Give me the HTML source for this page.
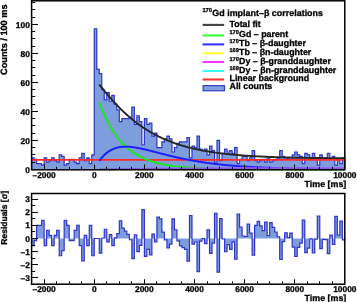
<!DOCTYPE html>
<html><head><meta charset="utf-8"><style>html,body{margin:0;padding:0;background:#fff;width:357px;height:302px;overflow:hidden;position:relative;-webkit-font-smoothing:antialiased} svg{will-change:transform}</style></head>
<body>
<svg width="357" height="302" viewBox="0 0 357 302" style="position:absolute;left:0;top:0"><rect width="357" height="302" fill="#fff"/><path d="M31.60,169.40L31.60,157.80L34.11,157.80L34.11,159.25L36.61,159.25L36.61,163.60L39.12,163.60L39.12,163.60L41.62,163.60L41.62,165.05L44.13,165.05L44.13,157.80L46.64,157.80L46.64,162.15L49.14,162.15L49.14,160.70L51.65,160.70L51.65,157.80L54.15,157.80L54.15,160.70L56.66,160.70L56.66,162.15L59.17,162.15L59.17,154.90L61.67,154.90L61.67,156.35L64.18,156.35L64.18,165.05L66.68,165.05L66.68,163.60L69.19,163.60L69.19,159.25L71.70,159.25L71.70,159.25L74.20,159.25L74.20,162.15L76.71,162.15L76.71,163.60L79.21,163.60L79.21,157.80L81.72,157.80L81.72,153.45L84.23,153.45L84.23,160.70L86.73,160.70L86.73,157.80L89.24,157.80L89.24,163.60L91.74,163.60L91.74,154.90L94.25,154.90L94.25,28.75L96.76,28.75L96.76,69.35L99.26,69.35L99.26,73.70L101.77,73.70L101.77,89.65L104.27,89.65L104.27,99.80L106.78,99.80L106.78,92.55L109.29,92.55L109.29,101.25L111.79,101.25L111.79,95.45L114.30,95.45L114.30,104.15L116.80,104.15L116.80,109.95L119.31,109.95L119.31,121.55L121.82,121.55L121.82,118.65L124.32,118.65L124.32,118.65L126.83,118.65L126.83,118.65L129.33,118.65L129.33,117.20L131.84,117.20L131.84,107.05L134.35,107.05L134.35,124.45L136.85,124.45L136.85,115.75L139.36,115.75L139.36,121.55L141.86,121.55L141.86,144.75L144.37,144.75L144.37,118.65L146.88,118.65L146.88,124.45L149.38,124.45L149.38,123.00L151.89,123.00L151.89,136.05L154.39,136.05L154.39,133.15L156.90,133.15L156.90,147.65L159.41,147.65L159.41,147.65L161.91,147.65L161.91,141.85L164.42,141.85L164.42,138.95L166.92,138.95L166.92,136.05L169.43,136.05L169.43,138.95L171.94,138.95L171.94,152.00L174.44,152.00L174.44,147.65L176.95,147.65L176.95,143.30L179.45,143.30L179.45,141.85L181.96,141.85L181.96,141.85L184.47,141.85L184.47,141.85L186.97,141.85L186.97,137.50L189.48,137.50L189.48,157.80L191.98,157.80L191.98,146.20L194.49,146.20L194.49,147.65L197.00,147.65L197.00,136.05L199.50,136.05L199.50,149.10L202.01,149.10L202.01,150.55L204.51,150.55L204.51,149.10L207.02,149.10L207.02,154.90L209.53,154.90L209.53,146.20L212.03,146.20L212.03,150.55L214.54,150.55L214.54,162.15L217.04,162.15L217.04,140.40L219.55,140.40L219.55,160.70L222.06,160.70L222.06,153.45L224.56,153.45L224.56,149.10L227.07,149.10L227.07,152.00L229.57,152.00L229.57,150.55L232.08,150.55L232.08,153.45L234.59,153.45L234.59,147.65L237.09,147.65L237.09,163.60L239.60,163.60L239.60,159.25L242.10,159.25L242.10,156.35L244.61,156.35L244.61,156.35L247.12,156.35L247.12,160.70L249.62,160.70L249.62,157.80L252.13,157.80L252.13,150.55L254.63,150.55L254.63,160.70L257.14,160.70L257.14,162.15L259.65,162.15L259.65,160.70L262.15,160.70L262.15,159.25L264.66,159.25L264.66,162.15L267.16,162.15L267.16,157.80L269.67,157.80L269.67,162.15L272.18,162.15L272.18,160.70L274.68,160.70L274.68,159.25L277.19,159.25L277.19,157.80L279.69,157.80L279.69,150.55L282.20,150.55L282.20,156.35L284.71,156.35L284.71,159.25L287.21,159.25L287.21,157.80L289.72,157.80L289.72,159.25L292.22,159.25L292.22,154.90L294.73,154.90L294.73,152.00L297.24,152.00L297.24,154.90L299.74,154.90L299.74,156.35L302.25,156.35L302.25,163.60L304.75,163.60L304.75,153.45L307.26,153.45L307.26,154.90L309.77,154.90L309.77,157.80L312.27,157.80L312.27,153.45L314.78,153.45L314.78,157.80L317.28,157.80L317.28,165.05L319.79,165.05L319.79,154.90L322.30,154.90L322.30,157.80L324.80,157.80L324.80,157.80L327.31,157.80L327.31,153.45L329.81,153.45L329.81,159.25L332.32,159.25L332.32,156.35L334.83,156.35L334.83,165.05L337.33,165.05L337.33,159.25L339.84,159.25L339.84,163.60L342.34,163.60L342.34,157.80L344.85,157.80L344.85,169.40Z" fill="#7d9ddd" stroke="none"/><path d="M31.60,169.40L31.60,157.80L34.11,157.80L34.11,159.25L36.61,159.25L36.61,163.60L39.12,163.60L39.12,163.60L41.62,163.60L41.62,165.05L44.13,165.05L44.13,157.80L46.64,157.80L46.64,162.15L49.14,162.15L49.14,160.70L51.65,160.70L51.65,157.80L54.15,157.80L54.15,160.70L56.66,160.70L56.66,162.15L59.17,162.15L59.17,154.90L61.67,154.90L61.67,156.35L64.18,156.35L64.18,165.05L66.68,165.05L66.68,163.60L69.19,163.60L69.19,159.25L71.70,159.25L71.70,159.25L74.20,159.25L74.20,162.15L76.71,162.15L76.71,163.60L79.21,163.60L79.21,157.80L81.72,157.80L81.72,153.45L84.23,153.45L84.23,160.70L86.73,160.70L86.73,157.80L89.24,157.80L89.24,163.60L91.74,163.60L91.74,154.90L94.25,154.90L94.25,28.75L96.76,28.75L96.76,69.35L99.26,69.35L99.26,73.70L101.77,73.70L101.77,89.65L104.27,89.65L104.27,99.80L106.78,99.80L106.78,92.55L109.29,92.55L109.29,101.25L111.79,101.25L111.79,95.45L114.30,95.45L114.30,104.15L116.80,104.15L116.80,109.95L119.31,109.95L119.31,121.55L121.82,121.55L121.82,118.65L124.32,118.65L124.32,118.65L126.83,118.65L126.83,118.65L129.33,118.65L129.33,117.20L131.84,117.20L131.84,107.05L134.35,107.05L134.35,124.45L136.85,124.45L136.85,115.75L139.36,115.75L139.36,121.55L141.86,121.55L141.86,144.75L144.37,144.75L144.37,118.65L146.88,118.65L146.88,124.45L149.38,124.45L149.38,123.00L151.89,123.00L151.89,136.05L154.39,136.05L154.39,133.15L156.90,133.15L156.90,147.65L159.41,147.65L159.41,147.65L161.91,147.65L161.91,141.85L164.42,141.85L164.42,138.95L166.92,138.95L166.92,136.05L169.43,136.05L169.43,138.95L171.94,138.95L171.94,152.00L174.44,152.00L174.44,147.65L176.95,147.65L176.95,143.30L179.45,143.30L179.45,141.85L181.96,141.85L181.96,141.85L184.47,141.85L184.47,141.85L186.97,141.85L186.97,137.50L189.48,137.50L189.48,157.80L191.98,157.80L191.98,146.20L194.49,146.20L194.49,147.65L197.00,147.65L197.00,136.05L199.50,136.05L199.50,149.10L202.01,149.10L202.01,150.55L204.51,150.55L204.51,149.10L207.02,149.10L207.02,154.90L209.53,154.90L209.53,146.20L212.03,146.20L212.03,150.55L214.54,150.55L214.54,162.15L217.04,162.15L217.04,140.40L219.55,140.40L219.55,160.70L222.06,160.70L222.06,153.45L224.56,153.45L224.56,149.10L227.07,149.10L227.07,152.00L229.57,152.00L229.57,150.55L232.08,150.55L232.08,153.45L234.59,153.45L234.59,147.65L237.09,147.65L237.09,163.60L239.60,163.60L239.60,159.25L242.10,159.25L242.10,156.35L244.61,156.35L244.61,156.35L247.12,156.35L247.12,160.70L249.62,160.70L249.62,157.80L252.13,157.80L252.13,150.55L254.63,150.55L254.63,160.70L257.14,160.70L257.14,162.15L259.65,162.15L259.65,160.70L262.15,160.70L262.15,159.25L264.66,159.25L264.66,162.15L267.16,162.15L267.16,157.80L269.67,157.80L269.67,162.15L272.18,162.15L272.18,160.70L274.68,160.70L274.68,159.25L277.19,159.25L277.19,157.80L279.69,157.80L279.69,150.55L282.20,150.55L282.20,156.35L284.71,156.35L284.71,159.25L287.21,159.25L287.21,157.80L289.72,157.80L289.72,159.25L292.22,159.25L292.22,154.90L294.73,154.90L294.73,152.00L297.24,152.00L297.24,154.90L299.74,154.90L299.74,156.35L302.25,156.35L302.25,163.60L304.75,163.60L304.75,153.45L307.26,153.45L307.26,154.90L309.77,154.90L309.77,157.80L312.27,157.80L312.27,153.45L314.78,153.45L314.78,157.80L317.28,157.80L317.28,165.05L319.79,165.05L319.79,154.90L322.30,154.90L322.30,157.80L324.80,157.80L324.80,157.80L327.31,157.80L327.31,153.45L329.81,153.45L329.81,159.25L332.32,159.25L332.32,156.35L334.83,156.35L334.83,165.05L337.33,165.05L337.33,159.25L339.84,159.25L339.84,163.60L342.34,163.60L342.34,157.80L344.85,157.80L344.85,169.40" fill="none" stroke="#3036c4" stroke-width="1.2"/><polyline points="99.26,84.50 99.89,85.29 100.52,86.09 101.14,86.87 101.77,87.66 102.39,88.44 103.02,89.22 103.65,89.99 104.27,90.76 104.90,91.52 105.53,92.28 106.15,93.03 106.78,93.78 107.41,94.52 108.03,95.26 108.66,95.99 109.29,96.72 109.91,97.44 110.54,98.15 111.17,98.86 111.79,99.57 112.42,100.27 113.04,100.96 113.67,101.65 114.30,102.33 114.92,103.01 115.55,103.68 116.18,104.35 116.80,105.00 117.43,105.66 118.06,106.31 118.68,106.95 119.31,107.58 119.94,108.21 120.56,108.84 121.19,109.46 121.82,110.07 122.44,110.67 123.07,111.27 123.70,111.87 124.32,112.46 124.95,113.04 125.57,113.62 126.20,114.19 126.83,114.75 127.45,115.31 128.08,115.87 128.71,116.41 129.33,116.96 129.96,117.49 130.59,118.02 131.21,118.55 131.84,119.07 132.47,119.58 133.09,120.09 133.72,120.59 134.35,121.09 134.97,121.58 135.60,122.07 136.23,122.55 136.85,123.02 137.48,123.49 138.10,123.95 138.73,124.41 139.36,124.87 139.98,125.32 140.61,125.76 141.24,126.20 141.86,126.63 142.49,127.06 143.12,127.48 143.74,127.90 144.37,128.31 145.00,128.72 145.62,129.12 146.25,129.52 146.88,129.91 147.50,130.30 148.13,130.69 148.76,131.07 149.38,131.44 150.01,131.81 150.63,132.18 151.26,132.54 151.89,132.89 152.51,133.25 153.14,133.59 153.77,133.94 154.39,134.28 155.02,134.61 155.65,134.94 156.27,135.27 156.90,135.59 157.53,135.91 158.15,136.22 158.78,136.53 159.41,136.84 160.03,137.14 160.66,137.44 161.29,137.73 161.91,138.03 162.54,138.31 163.16,138.60 163.79,138.88 164.42,139.15 165.04,139.42 165.67,139.69 166.30,139.96 166.92,140.22 167.55,140.48 168.18,140.73 168.80,140.98 169.43,141.23 170.06,141.48 170.68,141.72 171.31,141.96 171.94,142.19 172.56,142.42 173.19,142.65 173.82,142.88 174.44,143.10 175.07,143.32 175.69,143.54 176.32,143.75 176.95,143.96 177.57,144.17 178.20,144.38 178.83,144.58 179.45,144.78 180.08,144.98 180.71,145.17 181.33,145.36 181.96,145.55 182.59,145.74 183.21,145.92 183.84,146.11 184.47,146.28 185.09,146.46 185.72,146.64 186.35,146.81 186.97,146.98 187.60,147.14 188.22,147.31 188.85,147.47 189.48,147.63 190.10,147.79 190.73,147.94 191.36,148.10 191.98,148.25 192.61,148.40 193.24,148.55 193.86,148.69 194.49,148.83 195.12,148.98 195.74,149.11 196.37,149.25 197.00,149.39 197.62,149.52 198.25,149.65 198.88,149.78 199.50,149.91 200.13,150.04 200.75,150.16 201.38,150.28 202.01,150.40 202.63,150.52 203.26,150.64 203.89,150.76 204.51,150.87 205.14,150.98 205.77,151.09 206.39,151.20 207.02,151.31 207.65,151.42 208.27,151.52 208.90,151.62 209.53,151.72 210.15,151.83 210.78,151.92 211.41,152.02 212.03,152.12 212.66,152.21 213.28,152.30 213.91,152.40 214.54,152.49 215.16,152.58 215.79,152.66 216.42,152.75 217.04,152.84 217.67,152.92 218.30,153.00 218.92,153.09 219.55,153.17 220.18,153.25 220.80,153.32 221.43,153.40 222.06,153.48 222.68,153.55 223.31,153.63 223.94,153.70 224.56,153.77 225.19,153.84 225.81,153.91 226.44,153.98 227.07,154.05 227.69,154.11 228.32,154.18 228.95,154.24 229.57,154.31 230.20,154.37 230.83,154.43 231.45,154.49 232.08,154.55 232.71,154.61 233.33,154.67 233.96,154.73 234.59,154.79 235.21,154.84 235.84,154.90 236.47,154.95 237.09,155.00 237.72,155.06 238.34,155.11 238.97,155.16 239.60,155.21 240.22,155.26 240.85,155.31 241.48,155.36 242.10,155.40 242.73,155.45 243.36,155.50 243.98,155.54 244.61,155.59 245.24,155.63 245.86,155.67 246.49,155.72 247.12,155.76 247.74,155.80 248.37,155.84 249.00,155.88 249.62,155.92 250.25,155.96 250.88,156.00 251.50,156.04 252.13,156.07 252.75,156.11 253.38,156.15 254.01,156.18 254.63,156.22 255.26,156.25 255.89,156.29 256.51,156.32 257.14,156.35 257.77,156.39 258.39,156.42 259.02,156.45 259.65,156.48 260.27,156.51 260.90,156.54 261.53,156.57 262.15,156.60 262.78,156.63 263.41,156.66 264.03,156.69 264.66,156.72 265.28,156.74 265.91,156.77 266.54,156.80 267.16,156.82 267.79,156.85 268.42,156.87 269.04,156.90 269.67,156.92 270.30,156.95 270.92,156.97 271.55,156.99 272.18,157.02 272.80,157.04 273.43,157.06 274.06,157.08 274.68,157.11 275.31,157.13 275.94,157.15 276.56,157.17 277.19,157.19 277.81,157.21 278.44,157.23 279.07,157.25 279.69,157.27 280.32,157.29 280.95,157.31 281.57,157.33 282.20,157.34 282.83,157.36 283.45,157.38 284.08,157.40 284.71,157.41 285.33,157.43 285.96,157.45 286.59,157.46 287.21,157.48 287.84,157.49 288.47,157.51 289.09,157.53 289.72,157.54 290.34,157.56 290.97,157.57 291.60,157.59 292.22,157.60 292.85,157.61 293.48,157.63 294.10,157.64 294.73,157.65 295.36,157.67 295.98,157.68 296.61,157.69 297.24,157.71 297.86,157.72 298.49,157.73 299.12,157.74 299.74,157.75 300.37,157.77 301.00,157.78 301.62,157.79 302.25,157.80 302.87,157.81 303.50,157.82 304.13,157.83 304.75,157.84 305.38,157.85 306.01,157.86 306.63,157.87 307.26,157.88 307.89,157.89 308.51,157.90 309.14,157.91 309.77,157.92 310.39,157.93 311.02,157.94 311.65,157.95 312.27,157.96 312.90,157.97 313.53,157.97 314.15,157.98 314.78,157.99 315.40,158.00 316.03,158.01 316.66,158.02 317.28,158.02 317.91,158.03 318.54,158.04 319.16,158.05 319.79,158.05 320.42,158.06 321.04,158.07 321.67,158.07 322.30,158.08 322.92,158.09 323.55,158.09 324.18,158.10 324.80,158.11 325.43,158.11 326.06,158.12 326.68,158.13 327.31,158.13 327.93,158.14 328.56,158.14 329.19,158.15 329.81,158.16 330.44,158.16 331.07,158.17 331.69,158.17 332.32,158.18 332.95,158.18 333.57,158.19 334.20,158.19 334.83,158.20 335.45,158.20 336.08,158.21 336.71,158.21 337.33,158.22 337.96,158.22 338.59,158.23 339.21,158.23 339.84,158.24 340.46,158.24 341.09,158.24 341.72,158.25 342.34,158.25 342.97,158.26 343.60,158.26 344.22,158.27 344.85,158.27" fill="none" stroke="#262626" stroke-width="1.9" stroke-linejoin="round"/><polyline points="31.60,159.83 32.23,159.83 32.85,159.83 33.48,159.83 34.11,159.83 34.73,159.83 35.36,159.83 35.99,159.83 36.61,159.83 37.24,159.83 37.87,159.83 38.49,159.83 39.12,159.83 39.74,159.83 40.37,159.83 41.00,159.83 41.62,159.83 42.25,159.83 42.88,159.83 43.50,159.83 44.13,159.83 44.76,159.83 45.38,159.83 46.01,159.83 46.64,159.83 47.26,159.83 47.89,159.83 48.52,159.83 49.14,159.83 49.77,159.83 50.40,159.83 51.02,159.83 51.65,159.83 52.27,159.83 52.90,159.83 53.53,159.83 54.15,159.83 54.78,159.83 55.41,159.83 56.03,159.83 56.66,159.83 57.29,159.83 57.91,159.83 58.54,159.83 59.17,159.83 59.79,159.83 60.42,159.83 61.05,159.83 61.67,159.83 62.30,159.83 62.92,159.83 63.55,159.83 64.18,159.83 64.80,159.83 65.43,159.83 66.06,159.83 66.68,159.83 67.31,159.83 67.94,159.83 68.56,159.83 69.19,159.83 69.82,159.83 70.44,159.83 71.07,159.83 71.70,159.83 72.32,159.83 72.95,159.83 73.58,159.83 74.20,159.83 74.83,159.83 75.45,159.83 76.08,159.83 76.71,159.83 77.33,159.83 77.96,159.83 78.59,159.83 79.21,159.83 79.84,159.83 80.47,159.83 81.09,159.83 81.72,159.83 82.35,159.83 82.97,159.83 83.60,159.83 84.23,159.83 84.85,159.83 85.48,159.83 86.11,159.83 86.73,159.83 87.36,159.83 87.98,159.83 88.61,159.83 89.24,159.83 89.86,159.83 90.49,159.83 91.12,159.83 91.74,159.83 92.37,159.83 93.00,159.83 93.62,159.83 94.25,159.83 94.88,159.83 95.50,159.83 96.13,159.83 96.76,159.83 97.38,159.83 98.01,159.83 98.64,159.83 99.26,159.83 99.89,159.83 100.52,159.83 101.14,159.83 101.77,159.83 102.39,159.83 103.02,159.83 103.65,159.83 104.27,159.83 104.90,159.83 105.53,159.83 106.15,159.83 106.78,159.83 107.41,159.83 108.03,159.83 108.66,159.83 109.29,159.83 109.91,159.83 110.54,159.83 111.17,159.83 111.79,159.83 112.42,159.83 113.04,159.83 113.67,159.83 114.30,159.83 114.92,159.83 115.55,159.83 116.18,159.83 116.80,159.83 117.43,159.83 118.06,159.83 118.68,159.83 119.31,159.83 119.94,159.83 120.56,159.83 121.19,159.83 121.82,159.83 122.44,159.83 123.07,159.83 123.70,159.83 124.32,159.83 124.95,159.83 125.57,159.83 126.20,159.83 126.83,159.83 127.45,159.83 128.08,159.83 128.71,159.83 129.33,159.83 129.96,159.83 130.59,159.83 131.21,159.83 131.84,159.83 132.47,159.83 133.09,159.83 133.72,159.83 134.35,159.83 134.97,159.83 135.60,159.83 136.23,159.83 136.85,159.83 137.48,159.83 138.10,159.83 138.73,159.83 139.36,159.83 139.98,159.83 140.61,159.83 141.24,159.83 141.86,159.83 142.49,159.83 143.12,159.83 143.74,159.83 144.37,159.83 145.00,159.83 145.62,159.83 146.25,159.83 146.88,159.83 147.50,159.83 148.13,159.83 148.76,159.83 149.38,159.83 150.01,159.83 150.63,159.83 151.26,159.83 151.89,159.83 152.51,159.83 153.14,159.83 153.77,159.83 154.39,159.83 155.02,159.83 155.65,159.83 156.27,159.83 156.90,159.83 157.53,159.83 158.15,159.83 158.78,159.83 159.41,159.83 160.03,159.83 160.66,159.83 161.29,159.83 161.91,159.83 162.54,159.83 163.16,159.83 163.79,159.83 164.42,159.83 165.04,159.83 165.67,159.83 166.30,159.83 166.92,159.83 167.55,159.83 168.18,159.83 168.80,159.83 169.43,159.83 170.06,159.83 170.68,159.83 171.31,159.83 171.94,159.83 172.56,159.83 173.19,159.83 173.82,159.83 174.44,159.83 175.07,159.83 175.69,159.83 176.32,159.83 176.95,159.83 177.57,159.83 178.20,159.83 178.83,159.83 179.45,159.83 180.08,159.83 180.71,159.83 181.33,159.83 181.96,159.83 182.59,159.83 183.21,159.83 183.84,159.83 184.47,159.83 185.09,159.83 185.72,159.83 186.35,159.83 186.97,159.83 187.60,159.83 188.22,159.83 188.85,159.83 189.48,159.83 190.10,159.83 190.73,159.83 191.36,159.83 191.98,159.83 192.61,159.83 193.24,159.83 193.86,159.83 194.49,159.83 195.12,159.83 195.74,159.83 196.37,159.83 197.00,159.83 197.62,159.83 198.25,159.83 198.88,159.83 199.50,159.83 200.13,159.83 200.75,159.83 201.38,159.83 202.01,159.83 202.63,159.83 203.26,159.83 203.89,159.83 204.51,159.83 205.14,159.83 205.77,159.83 206.39,159.83 207.02,159.83 207.65,159.83 208.27,159.83 208.90,159.83 209.53,159.83 210.15,159.83 210.78,159.83 211.41,159.83 212.03,159.83 212.66,159.83 213.28,159.83 213.91,159.83 214.54,159.83 215.16,159.83 215.79,159.83 216.42,159.83 217.04,159.83 217.67,159.83 218.30,159.83 218.92,159.83 219.55,159.83 220.18,159.83 220.80,159.83 221.43,159.83 222.06,159.83 222.68,159.83 223.31,159.83 223.94,159.83 224.56,159.83 225.19,159.83 225.81,159.83 226.44,159.83 227.07,159.83 227.69,159.83 228.32,159.83 228.95,159.83 229.57,159.83 230.20,159.83 230.83,159.83 231.45,159.83 232.08,159.83 232.71,159.83 233.33,159.83 233.96,159.83 234.59,159.83 235.21,159.83 235.84,159.83 236.47,159.83 237.09,159.83 237.72,159.83 238.34,159.83 238.97,159.83 239.60,159.83 240.22,159.83 240.85,159.83 241.48,159.83 242.10,159.83 242.73,159.83 243.36,159.83 243.98,159.83 244.61,159.83 245.24,159.83 245.86,159.83 246.49,159.83 247.12,159.83 247.74,159.83 248.37,159.83 249.00,159.83 249.62,159.83 250.25,159.83 250.88,159.83 251.50,159.83 252.13,159.83 252.75,159.83 253.38,159.83 254.01,159.83 254.63,159.83 255.26,159.83 255.89,159.83 256.51,159.83 257.14,159.83 257.77,159.83 258.39,159.83 259.02,159.83 259.65,159.83 260.27,159.83 260.90,159.83 261.53,159.83 262.15,159.83 262.78,159.83 263.41,159.83 264.03,159.83 264.66,159.83 265.28,159.83 265.91,159.83 266.54,159.83 267.16,159.83 267.79,159.83 268.42,159.83 269.04,159.83 269.67,159.83 270.30,159.83 270.92,159.83 271.55,159.83 272.18,159.83 272.80,159.83 273.43,159.83 274.06,159.83 274.68,159.83 275.31,159.83 275.94,159.83 276.56,159.83 277.19,159.83 277.81,159.83 278.44,159.83 279.07,159.83 279.69,159.83 280.32,159.83 280.95,159.83 281.57,159.83 282.20,159.83 282.83,159.83 283.45,159.83 284.08,159.83 284.71,159.83 285.33,159.83 285.96,159.83 286.59,159.83 287.21,159.83 287.84,159.83 288.47,159.83 289.09,159.83 289.72,159.83 290.34,159.83 290.97,159.83 291.60,159.83 292.22,159.83 292.85,159.83 293.48,159.83 294.10,159.83 294.73,159.83 295.36,159.83 295.98,159.83 296.61,159.83 297.24,159.83 297.86,159.83 298.49,159.83 299.12,159.83 299.74,159.83 300.37,159.83 301.00,159.83 301.62,159.83 302.25,159.83 302.87,159.83 303.50,159.83 304.13,159.83 304.75,159.83 305.38,159.83 306.01,159.83 306.63,159.83 307.26,159.83 307.89,159.83 308.51,159.83 309.14,159.83 309.77,159.83 310.39,159.83 311.02,159.83 311.65,159.83 312.27,159.83 312.90,159.83 313.53,159.83 314.15,159.83 314.78,159.83 315.40,159.83 316.03,159.83 316.66,159.83 317.28,159.83 317.91,159.83 318.54,159.83 319.16,159.83 319.79,159.83 320.42,159.83 321.04,159.83 321.67,159.83 322.30,159.83 322.92,159.83 323.55,159.83 324.18,159.83 324.80,159.83 325.43,159.83 326.06,159.83 326.68,159.83 327.31,159.83 327.93,159.83 328.56,159.83 329.19,159.83 329.81,159.83 330.44,159.83 331.07,159.83 331.69,159.83 332.32,159.83 332.95,159.83 333.57,159.83 334.20,159.83 334.83,159.83 335.45,159.83 336.08,159.83 336.71,159.83 337.33,159.83 337.96,159.83 338.59,159.83 339.21,159.83 339.84,159.83 340.46,159.83 341.09,159.83 341.72,159.83 342.34,159.83 342.97,159.83 343.60,159.83 344.22,159.83 344.85,159.83" fill="none" stroke="#ff2a2a" stroke-width="1.9" stroke-linejoin="round"/><polyline points="99.26,102.54 99.89,104.21 100.52,105.83 101.14,107.42 101.77,108.96 102.39,110.47 103.02,111.94 103.65,113.37 104.27,114.77 104.90,116.13 105.53,117.46 106.15,118.75 106.78,120.01 107.41,121.25 108.03,122.45 108.66,123.62 109.29,124.76 109.91,125.87 110.54,126.96 111.17,128.01 111.79,129.05 112.42,130.05 113.04,131.03 113.67,131.99 114.30,132.92 114.92,133.83 115.55,134.72 116.18,135.58 116.80,136.43 117.43,137.25 118.06,138.05 118.68,138.83 119.31,139.59 119.94,140.34 120.56,141.06 121.19,141.77 121.82,142.46 122.44,143.13 123.07,143.78 123.70,144.42 124.32,145.04 124.95,145.65 125.57,146.24 126.20,146.82 126.83,147.38 127.45,147.93 128.08,148.47 128.71,148.99 129.33,149.50 129.96,149.99 130.59,150.48 131.21,150.95 131.84,151.41 132.47,151.86 133.09,152.29 133.72,152.72 134.35,153.14 134.97,153.54 135.60,153.94 136.23,154.32 136.85,154.70 137.48,155.07 138.10,155.42 138.73,155.77 139.36,156.11 139.98,156.44 140.61,156.77 141.24,157.08 141.86,157.39 142.49,157.69 143.12,157.98 143.74,158.26 144.37,158.54 145.00,158.81 145.62,159.08 146.25,159.33 146.88,159.58 147.50,159.83 148.13,160.07 148.76,160.30 149.38,160.53 150.01,160.75 150.63,160.96 151.26,161.17 151.89,161.38 152.51,161.58 153.14,161.77 153.77,161.96 154.39,162.15 155.02,162.33 155.65,162.51 156.27,162.68 156.90,162.85 157.53,163.01 158.15,163.17 158.78,163.32 159.41,163.48 160.03,163.62 160.66,163.77 161.29,163.91 161.91,164.04 162.54,164.18 163.16,164.31 163.79,164.44 164.42,164.56 165.04,164.68 165.67,164.80 166.30,164.91 166.92,165.02 167.55,165.13 168.18,165.24 168.80,165.34 169.43,165.44 170.06,165.54 170.68,165.64 171.31,165.73 171.94,165.82 172.56,165.91 173.19,166.00 173.82,166.08 174.44,166.17 175.07,166.25 175.69,166.33 176.32,166.40 176.95,166.48 177.57,166.55 178.20,166.62 178.83,166.69 179.45,166.76 180.08,166.82 180.71,166.89 181.33,166.95 181.96,167.01 182.59,167.07 183.21,167.13 183.84,167.19 184.47,167.24 185.09,167.30 185.72,167.35 186.35,167.40 186.97,167.45 187.60,167.50 188.22,167.55 188.85,167.59 189.48,167.64 190.10,167.68 190.73,167.72 191.36,167.77 191.98,167.81 192.61,167.85 193.24,167.88 193.86,167.92 194.49,167.96 195.12,167.99 195.74,168.03 196.37,168.06 197.00,168.10 197.62,168.13 198.25,168.16 198.88,168.19 199.50,168.22 200.13,168.25 200.75,168.28 201.38,168.31 202.01,168.34 202.63,168.36 203.26,168.39 203.89,168.41 204.51,168.44 205.14,168.46 205.77,168.49 206.39,168.51 207.02,168.53 207.65,168.55 208.27,168.57 208.90,168.59 209.53,168.61 210.15,168.63 210.78,168.65 211.41,168.67 212.03,168.69 212.66,168.71 213.28,168.72 213.91,168.74 214.54,168.76 215.16,168.77 215.79,168.79 216.42,168.80 217.04,168.82 217.67,168.83 218.30,168.85 218.92,168.86 219.55,168.88 220.18,168.89 220.80,168.90 221.43,168.91 222.06,168.93 222.68,168.94 223.31,168.95 223.94,168.96 224.56,168.97 225.19,168.98 225.81,168.99 226.44,169.00 227.07,169.01 227.69,169.02 228.32,169.03 228.95,169.04 229.57,169.05 230.20,169.06 230.83,169.07 231.45,169.08 232.08,169.08 232.71,169.09 233.33,169.10 233.96,169.11 234.59,169.11 235.21,169.12 235.84,169.13 236.47,169.13 237.09,169.14 237.72,169.15 238.34,169.15 238.97,169.16 239.60,169.17 240.22,169.17 240.85,169.18 241.48,169.18 242.10,169.19 242.73,169.19 243.36,169.20 243.98,169.20 244.61,169.21 245.24,169.21 245.86,169.22 246.49,169.22 247.12,169.23 247.74,169.23 248.37,169.24 249.00,169.24 249.62,169.24 250.25,169.25 250.88,169.25 251.50,169.26 252.13,169.26 252.75,169.26 253.38,169.27 254.01,169.27 254.63,169.27 255.26,169.28 255.89,169.28 256.51,169.28 257.14,169.28 257.77,169.29 258.39,169.29 259.02,169.29 259.65,169.30 260.27,169.30 260.90,169.30 261.53,169.30 262.15,169.31 262.78,169.31 263.41,169.31 264.03,169.31 264.66,169.31 265.28,169.32 265.91,169.32 266.54,169.32 267.16,169.32 267.79,169.32 268.42,169.33 269.04,169.33 269.67,169.33 270.30,169.33 270.92,169.33 271.55,169.34 272.18,169.34 272.80,169.34 273.43,169.34 274.06,169.34 274.68,169.34 275.31,169.34 275.94,169.35 276.56,169.35 277.19,169.35 277.81,169.35 278.44,169.35 279.07,169.35 279.69,169.35 280.32,169.35 280.95,169.36 281.57,169.36 282.20,169.36 282.83,169.36 283.45,169.36 284.08,169.36 284.71,169.36 285.33,169.36 285.96,169.36 286.59,169.36 287.21,169.37 287.84,169.37 288.47,169.37 289.09,169.37 289.72,169.37 290.34,169.37 290.97,169.37 291.60,169.37 292.22,169.37 292.85,169.37 293.48,169.37 294.10,169.37 294.73,169.37 295.36,169.38 295.98,169.38 296.61,169.38 297.24,169.38 297.86,169.38 298.49,169.38 299.12,169.38 299.74,169.38 300.37,169.38 301.00,169.38 301.62,169.38 302.25,169.38 302.87,169.38 303.50,169.38 304.13,169.38 304.75,169.38 305.38,169.38 306.01,169.38 306.63,169.38 307.26,169.38 307.89,169.39 308.51,169.39 309.14,169.39 309.77,169.39 310.39,169.39 311.02,169.39 311.65,169.39 312.27,169.39 312.90,169.39 313.53,169.39 314.15,169.39 314.78,169.39 315.40,169.39 316.03,169.39 316.66,169.39 317.28,169.39 317.91,169.39 318.54,169.39 319.16,169.39 319.79,169.39 320.42,169.39 321.04,169.39 321.67,169.39 322.30,169.39 322.92,169.39 323.55,169.39 324.18,169.39 324.80,169.39 325.43,169.39 326.06,169.39 326.68,169.39 327.31,169.39 327.93,169.39 328.56,169.39 329.19,169.39 329.81,169.39 330.44,169.39 331.07,169.39 331.69,169.39 332.32,169.39 332.95,169.39 333.57,169.39 334.20,169.39 334.83,169.39 335.45,169.40 336.08,169.40 336.71,169.40 337.33,169.40 337.96,169.40 338.59,169.40 339.21,169.40 339.84,169.40 340.46,169.40 341.09,169.40 341.72,169.40 342.34,169.40 342.97,169.40 343.60,169.40 344.22,169.40 344.85,169.40" fill="none" stroke="#1ee61e" stroke-width="2.0" stroke-linejoin="round"/><polyline points="99.26,160.94 99.89,160.07 100.52,159.25 101.14,158.45 101.77,157.70 102.39,156.98 103.02,156.29 103.65,155.64 104.27,155.01 104.90,154.42 105.53,153.85 106.15,153.32 106.78,152.81 107.41,152.33 108.03,151.87 108.66,151.44 109.29,151.03 109.91,150.65 110.54,150.29 111.17,149.95 111.79,149.63 112.42,149.33 113.04,149.05 113.67,148.79 114.30,148.55 114.92,148.33 115.55,148.12 116.18,147.93 116.80,147.76 117.43,147.60 118.06,147.45 118.68,147.32 119.31,147.20 119.94,147.10 120.56,147.01 121.19,146.93 121.82,146.86 122.44,146.80 123.07,146.76 123.70,146.72 124.32,146.70 124.95,146.68 125.57,146.68 126.20,146.68 126.83,146.69 127.45,146.71 128.08,146.74 128.71,146.78 129.33,146.82 129.96,146.87 130.59,146.92 131.21,146.99 131.84,147.05 132.47,147.13 133.09,147.21 133.72,147.29 134.35,147.38 134.97,147.48 135.60,147.58 136.23,147.68 136.85,147.79 137.48,147.90 138.10,148.02 138.73,148.14 139.36,148.26 139.98,148.39 140.61,148.51 141.24,148.65 141.86,148.78 142.49,148.92 143.12,149.06 143.74,149.20 144.37,149.34 145.00,149.49 145.62,149.63 146.25,149.78 146.88,149.93 147.50,150.09 148.13,150.24 148.76,150.39 149.38,150.55 150.01,150.71 150.63,150.86 151.26,151.02 151.89,151.18 152.51,151.34 153.14,151.50 153.77,151.66 154.39,151.82 155.02,151.98 155.65,152.14 156.27,152.31 156.90,152.47 157.53,152.63 158.15,152.79 158.78,152.95 159.41,153.11 160.03,153.27 160.66,153.44 161.29,153.60 161.91,153.76 162.54,153.92 163.16,154.08 163.79,154.23 164.42,154.39 165.04,154.55 165.67,154.71 166.30,154.86 166.92,155.02 167.55,155.17 168.18,155.33 168.80,155.48 169.43,155.64 170.06,155.79 170.68,155.94 171.31,156.09 171.94,156.24 172.56,156.39 173.19,156.53 173.82,156.68 174.44,156.83 175.07,156.97 175.69,157.11 176.32,157.26 176.95,157.40 177.57,157.54 178.20,157.68 178.83,157.81 179.45,157.95 180.08,158.09 180.71,158.22 181.33,158.36 181.96,158.49 182.59,158.62 183.21,158.75 183.84,158.88 184.47,159.01 185.09,159.14 185.72,159.26 186.35,159.39 186.97,159.51 187.60,159.63 188.22,159.75 188.85,159.87 189.48,159.99 190.10,160.11 190.73,160.23 191.36,160.34 191.98,160.46 192.61,160.57 193.24,160.68 193.86,160.79 194.49,160.90 195.12,161.01 195.74,161.12 196.37,161.23 197.00,161.33 197.62,161.43 198.25,161.54 198.88,161.64 199.50,161.74 200.13,161.84 200.75,161.94 201.38,162.04 202.01,162.13 202.63,162.23 203.26,162.32 203.89,162.42 204.51,162.51 205.14,162.60 205.77,162.69 206.39,162.78 207.02,162.87 207.65,162.95 208.27,163.04 208.90,163.13 209.53,163.21 210.15,163.29 210.78,163.37 211.41,163.46 212.03,163.54 212.66,163.62 213.28,163.69 213.91,163.77 214.54,163.85 215.16,163.92 215.79,164.00 216.42,164.07 217.04,164.14 217.67,164.22 218.30,164.29 218.92,164.36 219.55,164.43 220.18,164.49 220.80,164.56 221.43,164.63 222.06,164.69 222.68,164.76 223.31,164.82 223.94,164.89 224.56,164.95 225.19,165.01 225.81,165.07 226.44,165.13 227.07,165.19 227.69,165.25 228.32,165.31 228.95,165.37 229.57,165.42 230.20,165.48 230.83,165.53 231.45,165.59 232.08,165.64 232.71,165.69 233.33,165.75 233.96,165.80 234.59,165.85 235.21,165.90 235.84,165.95 236.47,166.00 237.09,166.04 237.72,166.09 238.34,166.14 238.97,166.19 239.60,166.23 240.22,166.28 240.85,166.32 241.48,166.36 242.10,166.41 242.73,166.45 243.36,166.49 243.98,166.53 244.61,166.57 245.24,166.62 245.86,166.66 246.49,166.69 247.12,166.73 247.74,166.77 248.37,166.81 249.00,166.85 249.62,166.88 250.25,166.92 250.88,166.96 251.50,166.99 252.13,167.03 252.75,167.06 253.38,167.09 254.01,167.13 254.63,167.16 255.26,167.19 255.89,167.22 256.51,167.26 257.14,167.29 257.77,167.32 258.39,167.35 259.02,167.38 259.65,167.41 260.27,167.44 260.90,167.46 261.53,167.49 262.15,167.52 262.78,167.55 263.41,167.57 264.03,167.60 264.66,167.63 265.28,167.65 265.91,167.68 266.54,167.70 267.16,167.73 267.79,167.75 268.42,167.78 269.04,167.80 269.67,167.82 270.30,167.85 270.92,167.87 271.55,167.89 272.18,167.91 272.80,167.94 273.43,167.96 274.06,167.98 274.68,168.00 275.31,168.02 275.94,168.04 276.56,168.06 277.19,168.08 277.81,168.10 278.44,168.12 279.07,168.14 279.69,168.16 280.32,168.18 280.95,168.19 281.57,168.21 282.20,168.23 282.83,168.25 283.45,168.26 284.08,168.28 284.71,168.30 285.33,168.31 285.96,168.33 286.59,168.34 287.21,168.36 287.84,168.38 288.47,168.39 289.09,168.41 289.72,168.42 290.34,168.44 290.97,168.45 291.60,168.46 292.22,168.48 292.85,168.49 293.48,168.50 294.10,168.52 294.73,168.53 295.36,168.54 295.98,168.56 296.61,168.57 297.24,168.58 297.86,168.59 298.49,168.61 299.12,168.62 299.74,168.63 300.37,168.64 301.00,168.65 301.62,168.66 302.25,168.67 302.87,168.69 303.50,168.70 304.13,168.71 304.75,168.72 305.38,168.73 306.01,168.74 306.63,168.75 307.26,168.76 307.89,168.77 308.51,168.78 309.14,168.79 309.77,168.79 310.39,168.80 311.02,168.81 311.65,168.82 312.27,168.83 312.90,168.84 313.53,168.85 314.15,168.86 314.78,168.86 315.40,168.87 316.03,168.88 316.66,168.89 317.28,168.89 317.91,168.90 318.54,168.91 319.16,168.92 319.79,168.92 320.42,168.93 321.04,168.94 321.67,168.95 322.30,168.95 322.92,168.96 323.55,168.97 324.18,168.97 324.80,168.98 325.43,168.99 326.06,168.99 326.68,169.00 327.31,169.00 327.93,169.01 328.56,169.02 329.19,169.02 329.81,169.03 330.44,169.03 331.07,169.04 331.69,169.04 332.32,169.05 332.95,169.05 333.57,169.06 334.20,169.06 334.83,169.07 335.45,169.07 336.08,169.08 336.71,169.08 337.33,169.09 337.96,169.09 338.59,169.10 339.21,169.10 339.84,169.11 340.46,169.11 341.09,169.12 341.72,169.12 342.34,169.12 342.97,169.13 343.60,169.13 344.22,169.14 344.85,169.14" fill="none" stroke="#1e1eff" stroke-width="2.0" stroke-linejoin="round"/><polyline points="99.26,169.39 99.89,169.38 100.52,169.38 101.14,169.37 101.77,169.37 102.39,169.36 103.02,169.36 103.65,169.35 104.27,169.35 104.90,169.34 105.53,169.34 106.15,169.33 106.78,169.32 107.41,169.32 108.03,169.31 108.66,169.30 109.29,169.29 109.91,169.29 110.54,169.28 111.17,169.27 111.79,169.26 112.42,169.25 113.04,169.25 113.67,169.24 114.30,169.23 114.92,169.22 115.55,169.21 116.18,169.20 116.80,169.19 117.43,169.19 118.06,169.18 118.68,169.17 119.31,169.16 119.94,169.15 120.56,169.14 121.19,169.13 121.82,169.12 122.44,169.11 123.07,169.10 123.70,169.09 124.32,169.08 124.95,169.08 125.57,169.07 126.20,169.06 126.83,169.05 127.45,169.04 128.08,169.03 128.71,169.02 129.33,169.01 129.96,169.00 130.59,168.99 131.21,168.98 131.84,168.97 132.47,168.96 133.09,168.96 133.72,168.95 134.35,168.94 134.97,168.93 135.60,168.92 136.23,168.91 136.85,168.90 137.48,168.89 138.10,168.88 138.73,168.88 139.36,168.87 139.98,168.86 140.61,168.85 141.24,168.84 141.86,168.83 142.49,168.82 143.12,168.82 143.74,168.81 144.37,168.80 145.00,168.79 145.62,168.78 146.25,168.78 146.88,168.77 147.50,168.76 148.13,168.75 148.76,168.74 149.38,168.74 150.01,168.73 150.63,168.72 151.26,168.71 151.89,168.71 152.51,168.70 153.14,168.69 153.77,168.68 154.39,168.68 155.02,168.67 155.65,168.66 156.27,168.65 156.90,168.65 157.53,168.64 158.15,168.63 158.78,168.63 159.41,168.62 160.03,168.61 160.66,168.61 161.29,168.60 161.91,168.59 162.54,168.59 163.16,168.58 163.79,168.58 164.42,168.57 165.04,168.56 165.67,168.56 166.30,168.55 166.92,168.55 167.55,168.54 168.18,168.53 168.80,168.53 169.43,168.52 170.06,168.52 170.68,168.51 171.31,168.51 171.94,168.50 172.56,168.50 173.19,168.49 173.82,168.48 174.44,168.48 175.07,168.47 175.69,168.47 176.32,168.46 176.95,168.46 177.57,168.45 178.20,168.45 178.83,168.45 179.45,168.44 180.08,168.44 180.71,168.43 181.33,168.43 181.96,168.42 182.59,168.42 183.21,168.41 183.84,168.41 184.47,168.40 185.09,168.40 185.72,168.40 186.35,168.39 186.97,168.39 187.60,168.38 188.22,168.38 188.85,168.38 189.48,168.37 190.10,168.37 190.73,168.36 191.36,168.36 191.98,168.36 192.61,168.35 193.24,168.35 193.86,168.35 194.49,168.34 195.12,168.34 195.74,168.34 196.37,168.33 197.00,168.33 197.62,168.33 198.25,168.32 198.88,168.32 199.50,168.32 200.13,168.31 200.75,168.31 201.38,168.31 202.01,168.30 202.63,168.30 203.26,168.30 203.89,168.30 204.51,168.29 205.14,168.29 205.77,168.29 206.39,168.28 207.02,168.28 207.65,168.28 208.27,168.28 208.90,168.27 209.53,168.27 210.15,168.27 210.78,168.27 211.41,168.26 212.03,168.26 212.66,168.26 213.28,168.26 213.91,168.25 214.54,168.25 215.16,168.25 215.79,168.25 216.42,168.25 217.04,168.24 217.67,168.24 218.30,168.24 218.92,168.24 219.55,168.24 220.18,168.23 220.80,168.23 221.43,168.23 222.06,168.23 222.68,168.23 223.31,168.22 223.94,168.22 224.56,168.22 225.19,168.22 225.81,168.22 226.44,168.21 227.07,168.21 227.69,168.21 228.32,168.21 228.95,168.21 229.57,168.21 230.20,168.20 230.83,168.20 231.45,168.20 232.08,168.20 232.71,168.20 233.33,168.20 233.96,168.20 234.59,168.19 235.21,168.19 235.84,168.19 236.47,168.19 237.09,168.19 237.72,168.19 238.34,168.19 238.97,168.18 239.60,168.18 240.22,168.18 240.85,168.18 241.48,168.18 242.10,168.18 242.73,168.18 243.36,168.18 243.98,168.17 244.61,168.17 245.24,168.17 245.86,168.17 246.49,168.17 247.12,168.17 247.74,168.17 248.37,168.17 249.00,168.17 249.62,168.16 250.25,168.16 250.88,168.16 251.50,168.16 252.13,168.16 252.75,168.16 253.38,168.16 254.01,168.16 254.63,168.16 255.26,168.16 255.89,168.15 256.51,168.15 257.14,168.15 257.77,168.15 258.39,168.15 259.02,168.15 259.65,168.15 260.27,168.15 260.90,168.15 261.53,168.15 262.15,168.15 262.78,168.15 263.41,168.14 264.03,168.14 264.66,168.14 265.28,168.14 265.91,168.14 266.54,168.14 267.16,168.14 267.79,168.14 268.42,168.14 269.04,168.14 269.67,168.14 270.30,168.14 270.92,168.14 271.55,168.14 272.18,168.14 272.80,168.13 273.43,168.13 274.06,168.13 274.68,168.13 275.31,168.13 275.94,168.13 276.56,168.13 277.19,168.13 277.81,168.13 278.44,168.13 279.07,168.13 279.69,168.13 280.32,168.13 280.95,168.13 281.57,168.13 282.20,168.13 282.83,168.13 283.45,168.13 284.08,168.13 284.71,168.12 285.33,168.12 285.96,168.12 286.59,168.12 287.21,168.12 287.84,168.12 288.47,168.12 289.09,168.12 289.72,168.12 290.34,168.12 290.97,168.12 291.60,168.12 292.22,168.12 292.85,168.12 293.48,168.12 294.10,168.12 294.73,168.12 295.36,168.12 295.98,168.12 296.61,168.12 297.24,168.12 297.86,168.12 298.49,168.12 299.12,168.12 299.74,168.12 300.37,168.12 301.00,168.12 301.62,168.11 302.25,168.11 302.87,168.11 303.50,168.11 304.13,168.11 304.75,168.11 305.38,168.11 306.01,168.11 306.63,168.11 307.26,168.11 307.89,168.11 308.51,168.11 309.14,168.11 309.77,168.11 310.39,168.11 311.02,168.11 311.65,168.11 312.27,168.11 312.90,168.11 313.53,168.11 314.15,168.11 314.78,168.11 315.40,168.11 316.03,168.11 316.66,168.11 317.28,168.11 317.91,168.11 318.54,168.11 319.16,168.11 319.79,168.11 320.42,168.11 321.04,168.11 321.67,168.11 322.30,168.11 322.92,168.11 323.55,168.11 324.18,168.11 324.80,168.11 325.43,168.11 326.06,168.11 326.68,168.11 327.31,168.11 327.93,168.11 328.56,168.11 329.19,168.11 329.81,168.10 330.44,168.10 331.07,168.10 331.69,168.10 332.32,168.10 332.95,168.10 333.57,168.10 334.20,168.10 334.83,168.10 335.45,168.10 336.08,168.10 336.71,168.10 337.33,168.10 337.96,168.10 338.59,168.10 339.21,168.10 339.84,168.10 340.46,168.10 341.09,168.10 341.72,168.10 342.34,168.10 342.97,168.10 343.60,168.10 344.22,168.10 344.85,168.10" fill="none" stroke="#aa50ff" stroke-width="1.8" stroke-linejoin="round"/><polyline points="99.26,169.40 99.89,169.40 100.52,169.40 101.14,169.40 101.77,169.40 102.39,169.40 103.02,169.40 103.65,169.40 104.27,169.40 104.90,169.40 105.53,169.40 106.15,169.40 106.78,169.40 107.41,169.40 108.03,169.40 108.66,169.40 109.29,169.40 109.91,169.40 110.54,169.40 111.17,169.40 111.79,169.40 112.42,169.40 113.04,169.40 113.67,169.40 114.30,169.40 114.92,169.40 115.55,169.40 116.18,169.40 116.80,169.40 117.43,169.40 118.06,169.40 118.68,169.40 119.31,169.40 119.94,169.40 120.56,169.40 121.19,169.40 121.82,169.40 122.44,169.40 123.07,169.40 123.70,169.40 124.32,169.40 124.95,169.40 125.57,169.40 126.20,169.40 126.83,169.40 127.45,169.40 128.08,169.40 128.71,169.40 129.33,169.40 129.96,169.40 130.59,169.40 131.21,169.40 131.84,169.40 132.47,169.40 133.09,169.40 133.72,169.40 134.35,169.40 134.97,169.40 135.60,169.40 136.23,169.40 136.85,169.40 137.48,169.40 138.10,169.40 138.73,169.40 139.36,169.40 139.98,169.40 140.61,169.40 141.24,169.40 141.86,169.40 142.49,169.40 143.12,169.40 143.74,169.40 144.37,169.40 145.00,169.40 145.62,169.40 146.25,169.40 146.88,169.40 147.50,169.40 148.13,169.40 148.76,169.40 149.38,169.40 150.01,169.40 150.63,169.40 151.26,169.40 151.89,169.40 152.51,169.40 153.14,169.40 153.77,169.40 154.39,169.40 155.02,169.40 155.65,169.40 156.27,169.40 156.90,169.40 157.53,169.40 158.15,169.40 158.78,169.40 159.41,169.40 160.03,169.40 160.66,169.40 161.29,169.40 161.91,169.40 162.54,169.40 163.16,169.40 163.79,169.40 164.42,169.40 165.04,169.40 165.67,169.40 166.30,169.40 166.92,169.40 167.55,169.40 168.18,169.40 168.80,169.40 169.43,169.40 170.06,169.40 170.68,169.40 171.31,169.40 171.94,169.40 172.56,169.40 173.19,169.40 173.82,169.40 174.44,169.40 175.07,169.40 175.69,169.40 176.32,169.40 176.95,169.40 177.57,169.40 178.20,169.40 178.83,169.40 179.45,169.40 180.08,169.40 180.71,169.40 181.33,169.40 181.96,169.40 182.59,169.40 183.21,169.40 183.84,169.40 184.47,169.40 185.09,169.40 185.72,169.40 186.35,169.40 186.97,169.40 187.60,169.40 188.22,169.40 188.85,169.40 189.48,169.40 190.10,169.40 190.73,169.40 191.36,169.40 191.98,169.40 192.61,169.40 193.24,169.40 193.86,169.40 194.49,169.40 195.12,169.40 195.74,169.40 196.37,169.40 197.00,169.40 197.62,169.40 198.25,169.40 198.88,169.40 199.50,169.40 200.13,169.40 200.75,169.40 201.38,169.40 202.01,169.40 202.63,169.40 203.26,169.40 203.89,169.40 204.51,169.40 205.14,169.40 205.77,169.40 206.39,169.40 207.02,169.40 207.65,169.40 208.27,169.40 208.90,169.40 209.53,169.40 210.15,169.40 210.78,169.40 211.41,169.40 212.03,169.40 212.66,169.40 213.28,169.40 213.91,169.40 214.54,169.40 215.16,169.40 215.79,169.40 216.42,169.40 217.04,169.40 217.67,169.40 218.30,169.40 218.92,169.40 219.55,169.40 220.18,169.40 220.80,169.40 221.43,169.40 222.06,169.40 222.68,169.40 223.31,169.40 223.94,169.40 224.56,169.40 225.19,169.40 225.81,169.40 226.44,169.40 227.07,169.40 227.69,169.40 228.32,169.40 228.95,169.40 229.57,169.40 230.20,169.40 230.83,169.40 231.45,169.40 232.08,169.40 232.71,169.40 233.33,169.40 233.96,169.40 234.59,169.40 235.21,169.40 235.84,169.40 236.47,169.40 237.09,169.40 237.72,169.40 238.34,169.40 238.97,169.40 239.60,169.40 240.22,169.40 240.85,169.40 241.48,169.40 242.10,169.40 242.73,169.40 243.36,169.40 243.98,169.40 244.61,169.40 245.24,169.40 245.86,169.40 246.49,169.40 247.12,169.40 247.74,169.40 248.37,169.40 249.00,169.40 249.62,169.40 250.25,169.40 250.88,169.40 251.50,169.40 252.13,169.40 252.75,169.40 253.38,169.40 254.01,169.40 254.63,169.40 255.26,169.40 255.89,169.40 256.51,169.40 257.14,169.40 257.77,169.40 258.39,169.40 259.02,169.40 259.65,169.40 260.27,169.40 260.90,169.40 261.53,169.40 262.15,169.40 262.78,169.40 263.41,169.40 264.03,169.40 264.66,169.40 265.28,169.40 265.91,169.40 266.54,169.40 267.16,169.40 267.79,169.40 268.42,169.40 269.04,169.40 269.67,169.40 270.30,169.40 270.92,169.40 271.55,169.40 272.18,169.40 272.80,169.40 273.43,169.40 274.06,169.40 274.68,169.40 275.31,169.40 275.94,169.40 276.56,169.40 277.19,169.40 277.81,169.40 278.44,169.40 279.07,169.40 279.69,169.40 280.32,169.40 280.95,169.40 281.57,169.40 282.20,169.40 282.83,169.40 283.45,169.40 284.08,169.40 284.71,169.40 285.33,169.40 285.96,169.40 286.59,169.40 287.21,169.40 287.84,169.40 288.47,169.40 289.09,169.40 289.72,169.40 290.34,169.40 290.97,169.40 291.60,169.40 292.22,169.40 292.85,169.40 293.48,169.40 294.10,169.40 294.73,169.40 295.36,169.40 295.98,169.40 296.61,169.40 297.24,169.40 297.86,169.40 298.49,169.40 299.12,169.40 299.74,169.40 300.37,169.40 301.00,169.40 301.62,169.40 302.25,169.40 302.87,169.40 303.50,169.40 304.13,169.40 304.75,169.40 305.38,169.40 306.01,169.40 306.63,169.40 307.26,169.40 307.89,169.40 308.51,169.40 309.14,169.40 309.77,169.40 310.39,169.40 311.02,169.40 311.65,169.40 312.27,169.40 312.90,169.40 313.53,169.40 314.15,169.40 314.78,169.40 315.40,169.40 316.03,169.40 316.66,169.40 317.28,169.40 317.91,169.40 318.54,169.40 319.16,169.40 319.79,169.40 320.42,169.40 321.04,169.40 321.67,169.40 322.30,169.40 322.92,169.40 323.55,169.40 324.18,169.40 324.80,169.40 325.43,169.40 326.06,169.40 326.68,169.40 327.31,169.40 327.93,169.40 328.56,169.40 329.19,169.40 329.81,169.40 330.44,169.40 331.07,169.40 331.69,169.40 332.32,169.40 332.95,169.40 333.57,169.40 334.20,169.40 334.83,169.40 335.45,169.40 336.08,169.40 336.71,169.40 337.33,169.40 337.96,169.40 338.59,169.40 339.21,169.40 339.84,169.40 340.46,169.40 341.09,169.40 341.72,169.40 342.34,169.40 342.97,169.40 343.60,169.40 344.22,169.40 344.85,169.40" fill="none" stroke="#2a8080" stroke-width="1.4" stroke-linejoin="round"/><rect x="31.6" y="0.8" width="313.2" height="169.0" fill="none" stroke="#000" stroke-width="1.5"/><path d="M31.60,238.50L31.60,245.60L34.11,245.60L34.11,240.53L36.61,240.53L36.61,225.31L39.12,225.31L39.12,225.31L41.62,225.31L41.62,220.24L44.13,220.24L44.13,245.60L46.64,245.60L46.64,230.38L49.14,230.38L49.14,235.46L51.65,235.46L51.65,245.60L54.15,245.60L54.15,235.46L56.66,235.46L56.66,230.38L59.17,230.38L59.17,255.74L61.67,255.74L61.67,250.67L64.18,250.67L64.18,220.24L66.68,220.24L66.68,225.31L69.19,225.31L69.19,240.53L71.70,240.53L71.70,240.53L74.20,240.53L74.20,230.38L76.71,230.38L76.71,225.31L79.21,225.31L79.21,245.60L81.72,245.60L81.72,260.82L84.23,260.82L84.23,235.46L86.73,235.46L86.73,245.60L89.24,245.60L89.24,225.31L91.74,225.31L91.74,255.74L94.25,255.74L94.25,238.50L96.76,238.50L96.76,238.50L99.26,238.50L99.26,253.18L101.77,253.18L101.77,237.98L104.27,237.98L104.27,229.23L106.78,229.23L106.78,241.90L109.29,241.90L109.29,234.53L111.79,234.53L111.79,245.71L114.30,245.71L114.30,237.87L116.80,237.87L116.80,233.54L119.31,233.54L119.31,220.82L121.82,220.82L121.82,228.03L124.32,228.03L124.32,231.21L126.83,231.21L126.83,234.38L129.33,234.38L129.33,239.74L131.84,239.74L131.84,258.59L134.35,258.59L134.35,234.75L136.85,234.75L136.85,251.67L139.36,251.67L139.36,245.39L141.86,245.39L141.86,209.64L144.37,209.64L144.37,256.36L146.88,256.36L146.88,249.35L149.38,249.35L149.38,254.78L151.89,254.78L151.89,234.06L154.39,234.06L154.39,241.80L156.90,241.80L156.90,217.03L159.41,217.03L159.41,218.96L161.91,218.96L161.91,232.16L164.42,232.16L164.42,239.97L166.92,239.97L166.92,247.96L169.43,247.96L169.43,244.19L171.94,244.19L171.94,218.94L174.44,218.94L174.44,229.75L176.95,229.75L176.95,240.83L179.45,240.83L179.45,245.80L181.96,245.80L181.96,247.60L184.47,247.60L184.47,249.35L186.97,249.35L186.97,261.08L189.48,261.08L189.48,215.48L191.98,215.48L191.98,244.06L194.49,244.06L194.49,242.02L197.00,242.02L197.00,271.62L199.50,271.62L199.50,241.11L202.01,241.11L202.01,238.72L204.51,238.72L204.51,243.54L207.02,243.54L207.02,229.85L209.53,229.85L209.53,253.32L212.03,253.32L212.03,243.09L214.54,243.09L214.54,213.41L217.04,213.41L217.04,272.18L219.55,272.18L219.55,218.59L222.06,218.59L222.06,238.98L224.56,238.98L224.56,251.73L227.07,251.73L227.07,244.54L229.57,244.54L229.57,249.36L232.08,249.36L232.08,241.94L234.59,241.94L234.59,259.09L237.09,259.09L237.09,214.19L239.60,214.19L239.60,227.14L242.10,227.14L242.10,236.02L244.61,236.02L244.61,236.52L247.12,236.52L247.12,224.22L249.62,224.22L249.62,233.18L252.13,233.18L252.13,255.14L254.63,255.14L254.63,225.31L257.14,225.31L257.14,221.29L259.65,221.29L259.65,225.95L262.15,225.95L262.15,230.65L264.66,230.65L264.66,222.12L267.16,222.12L267.16,235.67L269.67,235.67L269.67,222.60L272.18,222.60L272.18,227.29L274.68,227.29L274.68,232.00L277.19,232.00L277.19,236.73L279.69,236.73L279.69,259.52L282.20,259.52L282.20,241.71L284.71,241.71L284.71,232.86L287.21,232.86L287.21,237.59L289.72,237.59L289.72,233.22L292.22,233.22L292.22,247.10L294.73,247.10L294.73,256.46L297.24,256.46L297.24,247.47L299.74,247.47L299.74,243.03L302.25,243.03L302.25,220.13L304.75,220.13L304.75,252.56L307.26,252.56L307.26,248.08L309.77,248.08L309.77,238.95L312.27,238.95L312.27,252.99L314.78,252.99L314.78,239.17L317.28,239.17L317.28,215.99L319.79,215.99L319.79,248.68L322.30,248.68L322.30,239.45L324.80,239.45L324.80,239.53L327.31,239.53L327.31,253.64L329.81,253.64L329.81,235.00L332.32,235.00L332.32,244.44L334.83,244.44L334.83,216.37L337.33,216.37L337.33,235.19L339.84,235.19L339.84,221.15L342.34,221.15L342.34,240.00L344.85,240.00L344.85,238.50Z" fill="#7d9ddd" stroke="none"/><path d="M31.60,238.50L31.60,245.60L34.11,245.60L34.11,240.53L36.61,240.53L36.61,225.31L39.12,225.31L39.12,225.31L41.62,225.31L41.62,220.24L44.13,220.24L44.13,245.60L46.64,245.60L46.64,230.38L49.14,230.38L49.14,235.46L51.65,235.46L51.65,245.60L54.15,245.60L54.15,235.46L56.66,235.46L56.66,230.38L59.17,230.38L59.17,255.74L61.67,255.74L61.67,250.67L64.18,250.67L64.18,220.24L66.68,220.24L66.68,225.31L69.19,225.31L69.19,240.53L71.70,240.53L71.70,240.53L74.20,240.53L74.20,230.38L76.71,230.38L76.71,225.31L79.21,225.31L79.21,245.60L81.72,245.60L81.72,260.82L84.23,260.82L84.23,235.46L86.73,235.46L86.73,245.60L89.24,245.60L89.24,225.31L91.74,225.31L91.74,255.74L94.25,255.74L94.25,238.50L96.76,238.50L96.76,238.50L99.26,238.50L99.26,253.18L101.77,253.18L101.77,237.98L104.27,237.98L104.27,229.23L106.78,229.23L106.78,241.90L109.29,241.90L109.29,234.53L111.79,234.53L111.79,245.71L114.30,245.71L114.30,237.87L116.80,237.87L116.80,233.54L119.31,233.54L119.31,220.82L121.82,220.82L121.82,228.03L124.32,228.03L124.32,231.21L126.83,231.21L126.83,234.38L129.33,234.38L129.33,239.74L131.84,239.74L131.84,258.59L134.35,258.59L134.35,234.75L136.85,234.75L136.85,251.67L139.36,251.67L139.36,245.39L141.86,245.39L141.86,209.64L144.37,209.64L144.37,256.36L146.88,256.36L146.88,249.35L149.38,249.35L149.38,254.78L151.89,254.78L151.89,234.06L154.39,234.06L154.39,241.80L156.90,241.80L156.90,217.03L159.41,217.03L159.41,218.96L161.91,218.96L161.91,232.16L164.42,232.16L164.42,239.97L166.92,239.97L166.92,247.96L169.43,247.96L169.43,244.19L171.94,244.19L171.94,218.94L174.44,218.94L174.44,229.75L176.95,229.75L176.95,240.83L179.45,240.83L179.45,245.80L181.96,245.80L181.96,247.60L184.47,247.60L184.47,249.35L186.97,249.35L186.97,261.08L189.48,261.08L189.48,215.48L191.98,215.48L191.98,244.06L194.49,244.06L194.49,242.02L197.00,242.02L197.00,271.62L199.50,271.62L199.50,241.11L202.01,241.11L202.01,238.72L204.51,238.72L204.51,243.54L207.02,243.54L207.02,229.85L209.53,229.85L209.53,253.32L212.03,253.32L212.03,243.09L214.54,243.09L214.54,213.41L217.04,213.41L217.04,272.18L219.55,272.18L219.55,218.59L222.06,218.59L222.06,238.98L224.56,238.98L224.56,251.73L227.07,251.73L227.07,244.54L229.57,244.54L229.57,249.36L232.08,249.36L232.08,241.94L234.59,241.94L234.59,259.09L237.09,259.09L237.09,214.19L239.60,214.19L239.60,227.14L242.10,227.14L242.10,236.02L244.61,236.02L244.61,236.52L247.12,236.52L247.12,224.22L249.62,224.22L249.62,233.18L252.13,233.18L252.13,255.14L254.63,255.14L254.63,225.31L257.14,225.31L257.14,221.29L259.65,221.29L259.65,225.95L262.15,225.95L262.15,230.65L264.66,230.65L264.66,222.12L267.16,222.12L267.16,235.67L269.67,235.67L269.67,222.60L272.18,222.60L272.18,227.29L274.68,227.29L274.68,232.00L277.19,232.00L277.19,236.73L279.69,236.73L279.69,259.52L282.20,259.52L282.20,241.71L284.71,241.71L284.71,232.86L287.21,232.86L287.21,237.59L289.72,237.59L289.72,233.22L292.22,233.22L292.22,247.10L294.73,247.10L294.73,256.46L297.24,256.46L297.24,247.47L299.74,247.47L299.74,243.03L302.25,243.03L302.25,220.13L304.75,220.13L304.75,252.56L307.26,252.56L307.26,248.08L309.77,248.08L309.77,238.95L312.27,238.95L312.27,252.99L314.78,252.99L314.78,239.17L317.28,239.17L317.28,215.99L319.79,215.99L319.79,248.68L322.30,248.68L322.30,239.45L324.80,239.45L324.80,239.53L327.31,239.53L327.31,253.64L329.81,253.64L329.81,235.00L332.32,235.00L332.32,244.44L334.83,244.44L334.83,216.37L337.33,216.37L337.33,235.19L339.84,235.19L339.84,221.15L342.34,221.15L342.34,240.00L344.85,240.00L344.85,238.50" fill="none" stroke="#3036c4" stroke-width="1.2"/><rect x="31.6" y="193.5" width="313.2" height="90.69999999999999" fill="none" stroke="#000" stroke-width="1.5"/><line x1="32.2" y1="162.50" x2="35.2" y2="162.50" stroke="#000" stroke-width="1"/><line x1="32.2" y1="154.50" x2="35.2" y2="154.50" stroke="#000" stroke-width="1"/><line x1="32.2" y1="147.50" x2="35.2" y2="147.50" stroke="#000" stroke-width="1"/><line x1="32.2" y1="140.50" x2="38.0" y2="140.50" stroke="#000" stroke-width="1"/><line x1="32.2" y1="133.50" x2="35.2" y2="133.50" stroke="#000" stroke-width="1"/><line x1="32.2" y1="125.50" x2="35.2" y2="125.50" stroke="#000" stroke-width="1"/><line x1="32.2" y1="118.50" x2="35.2" y2="118.50" stroke="#000" stroke-width="1"/><line x1="32.2" y1="111.50" x2="38.0" y2="111.50" stroke="#000" stroke-width="1"/><line x1="32.2" y1="104.50" x2="35.2" y2="104.50" stroke="#000" stroke-width="1"/><line x1="32.2" y1="96.50" x2="35.2" y2="96.50" stroke="#000" stroke-width="1"/><line x1="32.2" y1="89.50" x2="35.2" y2="89.50" stroke="#000" stroke-width="1"/><line x1="32.2" y1="82.50" x2="38.0" y2="82.50" stroke="#000" stroke-width="1"/><line x1="32.2" y1="75.50" x2="35.2" y2="75.50" stroke="#000" stroke-width="1"/><line x1="32.2" y1="67.50" x2="35.2" y2="67.50" stroke="#000" stroke-width="1"/><line x1="32.2" y1="60.50" x2="35.2" y2="60.50" stroke="#000" stroke-width="1"/><line x1="32.2" y1="53.50" x2="38.0" y2="53.50" stroke="#000" stroke-width="1"/><line x1="32.2" y1="46.50" x2="35.2" y2="46.50" stroke="#000" stroke-width="1"/><line x1="32.2" y1="38.50" x2="35.2" y2="38.50" stroke="#000" stroke-width="1"/><line x1="32.2" y1="31.50" x2="35.2" y2="31.50" stroke="#000" stroke-width="1"/><line x1="32.2" y1="24.50" x2="38.0" y2="24.50" stroke="#000" stroke-width="1"/><line x1="32.2" y1="17.50" x2="35.2" y2="17.50" stroke="#000" stroke-width="1"/><line x1="32.2" y1="9.50" x2="35.2" y2="9.50" stroke="#000" stroke-width="1"/><line x1="32.2" y1="2.50" x2="35.2" y2="2.50" stroke="#000" stroke-width="1"/><line x1="44.50" y1="169.2" x2="44.50" y2="164.6" stroke="#000" stroke-width="1"/><line x1="56.50" y1="169.2" x2="56.50" y2="166.79999999999998" stroke="#000" stroke-width="1"/><line x1="69.50" y1="169.2" x2="69.50" y2="166.79999999999998" stroke="#000" stroke-width="1"/><line x1="81.50" y1="169.2" x2="81.50" y2="166.79999999999998" stroke="#000" stroke-width="1"/><line x1="94.50" y1="169.2" x2="94.50" y2="164.6" stroke="#000" stroke-width="1"/><line x1="106.50" y1="169.2" x2="106.50" y2="166.79999999999998" stroke="#000" stroke-width="1"/><line x1="119.50" y1="169.2" x2="119.50" y2="166.79999999999998" stroke="#000" stroke-width="1"/><line x1="131.50" y1="169.2" x2="131.50" y2="166.79999999999998" stroke="#000" stroke-width="1"/><line x1="144.50" y1="169.2" x2="144.50" y2="164.6" stroke="#000" stroke-width="1"/><line x1="156.50" y1="169.2" x2="156.50" y2="166.79999999999998" stroke="#000" stroke-width="1"/><line x1="169.50" y1="169.2" x2="169.50" y2="166.79999999999998" stroke="#000" stroke-width="1"/><line x1="181.50" y1="169.2" x2="181.50" y2="166.79999999999998" stroke="#000" stroke-width="1"/><line x1="194.50" y1="169.2" x2="194.50" y2="164.6" stroke="#000" stroke-width="1"/><line x1="207.50" y1="169.2" x2="207.50" y2="166.79999999999998" stroke="#000" stroke-width="1"/><line x1="219.50" y1="169.2" x2="219.50" y2="166.79999999999998" stroke="#000" stroke-width="1"/><line x1="232.50" y1="169.2" x2="232.50" y2="166.79999999999998" stroke="#000" stroke-width="1"/><line x1="244.50" y1="169.2" x2="244.50" y2="164.6" stroke="#000" stroke-width="1"/><line x1="257.50" y1="169.2" x2="257.50" y2="166.79999999999998" stroke="#000" stroke-width="1"/><line x1="269.50" y1="169.2" x2="269.50" y2="166.79999999999998" stroke="#000" stroke-width="1"/><line x1="282.50" y1="169.2" x2="282.50" y2="166.79999999999998" stroke="#000" stroke-width="1"/><line x1="294.50" y1="169.2" x2="294.50" y2="164.6" stroke="#000" stroke-width="1"/><line x1="307.50" y1="169.2" x2="307.50" y2="166.79999999999998" stroke="#000" stroke-width="1"/><line x1="319.50" y1="169.2" x2="319.50" y2="166.79999999999998" stroke="#000" stroke-width="1"/><line x1="332.50" y1="169.2" x2="332.50" y2="166.79999999999998" stroke="#000" stroke-width="1"/><line x1="32.2" y1="277.50" x2="38.0" y2="277.50" stroke="#000" stroke-width="1"/><line x1="32.2" y1="271.50" x2="35.2" y2="271.50" stroke="#000" stroke-width="1"/><line x1="32.2" y1="264.50" x2="38.0" y2="264.50" stroke="#000" stroke-width="1"/><line x1="32.2" y1="258.50" x2="35.2" y2="258.50" stroke="#000" stroke-width="1"/><line x1="32.2" y1="251.50" x2="38.0" y2="251.50" stroke="#000" stroke-width="1"/><line x1="32.2" y1="245.50" x2="35.2" y2="245.50" stroke="#000" stroke-width="1"/><line x1="32.2" y1="238.50" x2="38.0" y2="238.50" stroke="#000" stroke-width="1"/><line x1="32.2" y1="231.50" x2="35.2" y2="231.50" stroke="#000" stroke-width="1"/><line x1="32.2" y1="225.50" x2="38.0" y2="225.50" stroke="#000" stroke-width="1"/><line x1="32.2" y1="218.50" x2="35.2" y2="218.50" stroke="#000" stroke-width="1"/><line x1="32.2" y1="212.50" x2="38.0" y2="212.50" stroke="#000" stroke-width="1"/><line x1="32.2" y1="205.50" x2="35.2" y2="205.50" stroke="#000" stroke-width="1"/><line x1="32.2" y1="199.50" x2="38.0" y2="199.50" stroke="#000" stroke-width="1"/><line x1="44.50" y1="283.6" x2="44.50" y2="279.20000000000005" stroke="#000" stroke-width="1"/><line x1="56.50" y1="283.6" x2="56.50" y2="281.3" stroke="#000" stroke-width="1"/><line x1="69.50" y1="283.6" x2="69.50" y2="281.3" stroke="#000" stroke-width="1"/><line x1="81.50" y1="283.6" x2="81.50" y2="281.3" stroke="#000" stroke-width="1"/><line x1="94.50" y1="283.6" x2="94.50" y2="279.20000000000005" stroke="#000" stroke-width="1"/><line x1="106.50" y1="283.6" x2="106.50" y2="281.3" stroke="#000" stroke-width="1"/><line x1="119.50" y1="283.6" x2="119.50" y2="281.3" stroke="#000" stroke-width="1"/><line x1="131.50" y1="283.6" x2="131.50" y2="281.3" stroke="#000" stroke-width="1"/><line x1="144.50" y1="283.6" x2="144.50" y2="279.20000000000005" stroke="#000" stroke-width="1"/><line x1="156.50" y1="283.6" x2="156.50" y2="281.3" stroke="#000" stroke-width="1"/><line x1="169.50" y1="283.6" x2="169.50" y2="281.3" stroke="#000" stroke-width="1"/><line x1="181.50" y1="283.6" x2="181.50" y2="281.3" stroke="#000" stroke-width="1"/><line x1="194.50" y1="283.6" x2="194.50" y2="279.20000000000005" stroke="#000" stroke-width="1"/><line x1="207.50" y1="283.6" x2="207.50" y2="281.3" stroke="#000" stroke-width="1"/><line x1="219.50" y1="283.6" x2="219.50" y2="281.3" stroke="#000" stroke-width="1"/><line x1="232.50" y1="283.6" x2="232.50" y2="281.3" stroke="#000" stroke-width="1"/><line x1="244.50" y1="283.6" x2="244.50" y2="279.20000000000005" stroke="#000" stroke-width="1"/><line x1="257.50" y1="283.6" x2="257.50" y2="281.3" stroke="#000" stroke-width="1"/><line x1="269.50" y1="283.6" x2="269.50" y2="281.3" stroke="#000" stroke-width="1"/><line x1="282.50" y1="283.6" x2="282.50" y2="281.3" stroke="#000" stroke-width="1"/><line x1="294.50" y1="283.6" x2="294.50" y2="279.20000000000005" stroke="#000" stroke-width="1"/><line x1="307.50" y1="283.6" x2="307.50" y2="281.3" stroke="#000" stroke-width="1"/><line x1="319.50" y1="283.6" x2="319.50" y2="281.3" stroke="#000" stroke-width="1"/><line x1="332.50" y1="283.6" x2="332.50" y2="281.3" stroke="#000" stroke-width="1"/><text x="29.8" y="172.70000000000002" font-size="8.4" text-anchor="end" style="font-family:'Liberation Sans',sans-serif;font-weight:bold;stroke:#000;stroke-width:0.3px;text-rendering:geometricPrecision" >0</text><text x="29.8" y="143.70000000000002" font-size="8.4" text-anchor="end" style="font-family:'Liberation Sans',sans-serif;font-weight:bold;stroke:#000;stroke-width:0.3px;text-rendering:geometricPrecision" >20</text><text x="29.8" y="114.7" font-size="8.4" text-anchor="end" style="font-family:'Liberation Sans',sans-serif;font-weight:bold;stroke:#000;stroke-width:0.3px;text-rendering:geometricPrecision" >40</text><text x="29.8" y="85.7" font-size="8.4" text-anchor="end" style="font-family:'Liberation Sans',sans-serif;font-weight:bold;stroke:#000;stroke-width:0.3px;text-rendering:geometricPrecision" >60</text><text x="29.8" y="56.7" font-size="8.4" text-anchor="end" style="font-family:'Liberation Sans',sans-serif;font-weight:bold;stroke:#000;stroke-width:0.3px;text-rendering:geometricPrecision" >80</text><text x="29.8" y="27.700000000000006" font-size="8.4" text-anchor="end" style="font-family:'Liberation Sans',sans-serif;font-weight:bold;stroke:#000;stroke-width:0.3px;text-rendering:geometricPrecision" >100</text><text x="44.13" y="178.4" font-size="8.4" text-anchor="middle" style="font-family:'Liberation Sans',sans-serif;font-weight:bold;stroke:#000;stroke-width:0.3px;text-rendering:geometricPrecision" >–2000</text><text x="44.13" y="292.3" font-size="8.4" text-anchor="middle" style="font-family:'Liberation Sans',sans-serif;font-weight:bold;stroke:#000;stroke-width:0.3px;text-rendering:geometricPrecision" >–2000</text><text x="94.25" y="178.4" font-size="8.4" text-anchor="middle" style="font-family:'Liberation Sans',sans-serif;font-weight:bold;stroke:#000;stroke-width:0.3px;text-rendering:geometricPrecision" >0</text><text x="94.25" y="292.3" font-size="8.4" text-anchor="middle" style="font-family:'Liberation Sans',sans-serif;font-weight:bold;stroke:#000;stroke-width:0.3px;text-rendering:geometricPrecision" >0</text><text x="144.37" y="178.4" font-size="8.4" text-anchor="middle" style="font-family:'Liberation Sans',sans-serif;font-weight:bold;stroke:#000;stroke-width:0.3px;text-rendering:geometricPrecision" >2000</text><text x="144.37" y="292.3" font-size="8.4" text-anchor="middle" style="font-family:'Liberation Sans',sans-serif;font-weight:bold;stroke:#000;stroke-width:0.3px;text-rendering:geometricPrecision" >2000</text><text x="194.48999999999998" y="178.4" font-size="8.4" text-anchor="middle" style="font-family:'Liberation Sans',sans-serif;font-weight:bold;stroke:#000;stroke-width:0.3px;text-rendering:geometricPrecision" >4000</text><text x="194.48999999999998" y="292.3" font-size="8.4" text-anchor="middle" style="font-family:'Liberation Sans',sans-serif;font-weight:bold;stroke:#000;stroke-width:0.3px;text-rendering:geometricPrecision" >4000</text><text x="244.60999999999999" y="178.4" font-size="8.4" text-anchor="middle" style="font-family:'Liberation Sans',sans-serif;font-weight:bold;stroke:#000;stroke-width:0.3px;text-rendering:geometricPrecision" >6000</text><text x="244.60999999999999" y="292.3" font-size="8.4" text-anchor="middle" style="font-family:'Liberation Sans',sans-serif;font-weight:bold;stroke:#000;stroke-width:0.3px;text-rendering:geometricPrecision" >6000</text><text x="294.73" y="178.4" font-size="8.4" text-anchor="middle" style="font-family:'Liberation Sans',sans-serif;font-weight:bold;stroke:#000;stroke-width:0.3px;text-rendering:geometricPrecision" >8000</text><text x="294.73" y="292.3" font-size="8.4" text-anchor="middle" style="font-family:'Liberation Sans',sans-serif;font-weight:bold;stroke:#000;stroke-width:0.3px;text-rendering:geometricPrecision" >8000</text><text x="344.85" y="178.4" font-size="8.4" text-anchor="middle" style="font-family:'Liberation Sans',sans-serif;font-weight:bold;stroke:#000;stroke-width:0.3px;text-rendering:geometricPrecision" >10000</text><text x="344.85" y="292.3" font-size="8.4" text-anchor="middle" style="font-family:'Liberation Sans',sans-serif;font-weight:bold;stroke:#000;stroke-width:0.3px;text-rendering:geometricPrecision" >10000</text><text x="29.8" y="280.59" font-size="8.4" text-anchor="end" style="font-family:'Liberation Sans',sans-serif;font-weight:bold;stroke:#000;stroke-width:0.3px;text-rendering:geometricPrecision" >–3</text><text x="29.8" y="267.56" font-size="8.4" text-anchor="end" style="font-family:'Liberation Sans',sans-serif;font-weight:bold;stroke:#000;stroke-width:0.3px;text-rendering:geometricPrecision" >–2</text><text x="29.8" y="254.53" font-size="8.4" text-anchor="end" style="font-family:'Liberation Sans',sans-serif;font-weight:bold;stroke:#000;stroke-width:0.3px;text-rendering:geometricPrecision" >–1</text><text x="29.8" y="241.5" font-size="8.4" text-anchor="end" style="font-family:'Liberation Sans',sans-serif;font-weight:bold;stroke:#000;stroke-width:0.3px;text-rendering:geometricPrecision" >0</text><text x="29.8" y="228.47" font-size="8.4" text-anchor="end" style="font-family:'Liberation Sans',sans-serif;font-weight:bold;stroke:#000;stroke-width:0.3px;text-rendering:geometricPrecision" >1</text><text x="29.8" y="215.44" font-size="8.4" text-anchor="end" style="font-family:'Liberation Sans',sans-serif;font-weight:bold;stroke:#000;stroke-width:0.3px;text-rendering:geometricPrecision" >2</text><text x="29.8" y="202.41" font-size="8.4" text-anchor="end" style="font-family:'Liberation Sans',sans-serif;font-weight:bold;stroke:#000;stroke-width:0.3px;text-rendering:geometricPrecision" >3</text><text x="346.3" y="187.0" font-size="8.9" text-anchor="end" style="font-family:'Liberation Sans',sans-serif;font-weight:bold;stroke:#000;stroke-width:0.3px;text-rendering:geometricPrecision" >Time [ms]</text><text x="346.3" y="300.6" font-size="8.9" text-anchor="end" style="font-family:'Liberation Sans',sans-serif;font-weight:bold;stroke:#000;stroke-width:0.3px;text-rendering:geometricPrecision" >Time [ms]</text><text transform="translate(7.1,74.9) rotate(-90)" font-size="9.2" style="font-family:'Liberation Sans',sans-serif;font-weight:bold;stroke:#000;stroke-width:0.3px;text-rendering:geometricPrecision">Counts / 100 ms</text><text transform="translate(7.3,244.7) rotate(-90)" font-size="8.5" style="font-family:'Liberation Sans',sans-serif;font-weight:bold;stroke:#000;stroke-width:0.3px;text-rendering:geometricPrecision">Residuals [σ]</text><text x="202.4" y="16.1" style="font-family:'Liberation Sans',sans-serif;font-weight:bold;stroke:#000;stroke-width:0.3px;text-rendering:geometricPrecision" font-size="8.95"><tspan font-size="5.8" dy="-4.3" style="stroke-width:0.28px">170</tspan><tspan dx="0.2" dy="4.3">Gd implant–β correlations</tspan></text><line x1="202.6" y1="24.9" x2="224.2" y2="24.9" stroke="#404040" stroke-width="2.1"/><text x="229.5" y="26.7" style="font-family:'Liberation Sans',sans-serif;font-weight:bold;stroke:#000;stroke-width:0.3px;text-rendering:geometricPrecision" font-size="8.85">Total fit</text><line x1="202.6" y1="35.5" x2="224.2" y2="35.5" stroke="#33ff33" stroke-width="2.1"/><text x="229.5" y="37.0" style="font-family:'Liberation Sans',sans-serif;font-weight:bold;stroke:#000;stroke-width:0.3px;text-rendering:geometricPrecision" font-size="8.85"><tspan font-size="5.6" dy="-3.3" style="stroke-width:0.28px">170</tspan><tspan dx="0.2" dy="3.3">Gd – parent</tspan></text><line x1="202.6" y1="44.4" x2="224.2" y2="44.4" stroke="#3333ff" stroke-width="2.1"/><text x="229.5" y="45.8" style="font-family:'Liberation Sans',sans-serif;font-weight:bold;stroke:#000;stroke-width:0.3px;text-rendering:geometricPrecision" font-size="8.85"><tspan font-size="5.6" dy="-3.3" style="stroke-width:0.28px">170</tspan><tspan dx="0.2" dy="3.3">Tb – β-daughter</tspan></text><line x1="202.6" y1="53.2" x2="224.2" y2="53.2" stroke="#ffff33" stroke-width="2.1"/><text x="229.5" y="54.8" style="font-family:'Liberation Sans',sans-serif;font-weight:bold;stroke:#000;stroke-width:0.3px;text-rendering:geometricPrecision" font-size="8.85"><tspan font-size="5.6" dy="-3.3" style="stroke-width:0.28px">169</tspan><tspan dx="0.2" dy="3.3">Tb – βn-daughter</tspan></text><line x1="202.6" y1="62.0" x2="224.2" y2="62.0" stroke="#ff33ff" stroke-width="2.1"/><text x="229.5" y="64.0" style="font-family:'Liberation Sans',sans-serif;font-weight:bold;stroke:#000;stroke-width:0.3px;text-rendering:geometricPrecision" font-size="8.85"><tspan font-size="5.6" dy="-3.3" style="stroke-width:0.28px">170</tspan><tspan dx="0.2" dy="3.3">Dy – β-granddaughter</tspan></text><line x1="202.6" y1="71.0" x2="224.2" y2="71.0" stroke="#33ffff" stroke-width="2.1"/><text x="229.5" y="73.1" style="font-family:'Liberation Sans',sans-serif;font-weight:bold;stroke:#000;stroke-width:0.3px;text-rendering:geometricPrecision" font-size="8.85"><tspan font-size="5.6" dy="-3.3" style="stroke-width:0.28px">169</tspan><tspan dx="0.2" dy="3.3">Dy – βn-granddaughter</tspan></text><line x1="202.6" y1="79.5" x2="224.2" y2="79.5" stroke="#ff3333" stroke-width="2.1"/><text x="229.5" y="80.7" style="font-family:'Liberation Sans',sans-serif;font-weight:bold;stroke:#000;stroke-width:0.3px;text-rendering:geometricPrecision" font-size="8.85">Linear background</text><rect x="203.1" y="85.6" width="21.3" height="5.2" fill="#7f9fdf" stroke="#2a36c0" stroke-width="1.1"/><text x="229.5" y="89.4" style="font-family:'Liberation Sans',sans-serif;font-weight:bold;stroke:#000;stroke-width:0.3px;text-rendering:geometricPrecision" font-size="8.85">All counts</text></svg>
</body></html>
